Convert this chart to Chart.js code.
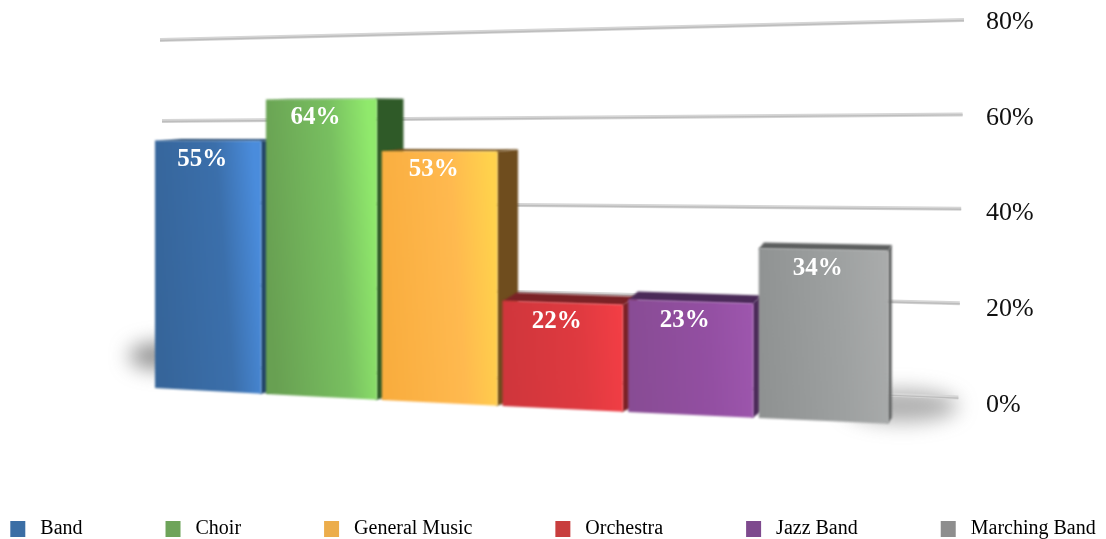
<!DOCTYPE html>
<html>
<head>
<meta charset="utf-8">
<script src="https://cdn.jsdelivr.net/npm/chart.js@4"></script>
<style>
  html, body { margin: 0; padding: 0; background: #fff; }
  #wrap { width: 1106px; height: 539px; }
</style>
</head>
<body>
<div id="wrap"><canvas id="chart"></canvas></div>
<script>
const categories = ['Music Participation'];
const seriesNames = ['Band', 'Choir', 'General Music', 'Orchestra', 'Jazz Band', 'Marching Band'];
const seriesValues = [55, 64, 53, 22, 23, 34];
const tickLabels = ['0%', '20%', '40%', '60%', '80%'];

const legendColors = ['#3b6ea5', '#6ea45a', '#ecad4b', '#c83e3e', '#7e4a8e', '#8e8e8e'];
const faceColors = [
  ['#36659a', '#3b6fab', '#4a8cdc'],
  ['#68a052', '#78bf60', '#90e96c'],
  ['#f9ad3e', '#ffb94f', '#ffd24c'],
  ['#cf363c', '#df3a40', '#f23e45'],
  ['#884c94', '#934fa2', '#9d56ad'],
  ['#8f9292', '#9ea1a1', '#a9abab']
];
const sideColors = ['#244568', '#2f5a28', '#6f4d1e', '#7a2226', '#4a2a58', '#5c5e5e'];
const SERIF = '"Liberation Serif", serif';

// the original is a tilted 3D chart, so bars go through this warp after the scales
function warpX(u) { return 155 + 108.5 * u + 2.45 * u * u; }
function warpY(u, v) { return 388 + 6 * u - v * (4.5 + 0.1 * u); }
function sideDepth(x) { return Math.max(3, 0.05 * (905 - x)); }

function poly(ctx, pts, fill) {
  ctx.beginPath();
  pts.forEach((p, i) => i ? ctx.lineTo(p[0], p[1]) : ctx.moveTo(p[0], p[1]));
  ctx.closePath();
  ctx.fillStyle = fill;
  ctx.fill();
}

const tiltPlugin = {
  id: 'tilt',
  beforeDatasetsDraw(chart) {
    const ctx = chart.ctx, y = chart.scales.y;
    ctx.save();
    // soft floor shadows
    ctx.filter = 'blur(10px)';
    ctx.fillStyle = 'rgba(95,95,95,0.7)';
    ctx.beginPath(); ctx.ellipse(warpX(0) + 4, warpY(0, 0) - 32, 30, 13, 0, 0, Math.PI * 2); ctx.fill();
    ctx.fillStyle = 'rgba(95,95,95,0.5)';
    ctx.beginPath(); ctx.ellipse(warpX(6) + 8, warpY(6, 0) - 18, 56, 16, 0, 0, Math.PI * 2); ctx.fill();
    // grid lines on the back wall
    y.ticks.forEach(t => {
      const v = t.value;
      const x0 = 160 + (80 - v) * 0.1, y0 = 40 + 4.05 * (80 - v);
      const x1 = 964 - (80 - v) * 0.07, y1 = 20 + 4.72 * (80 - v);
      ctx.filter = 'blur(0.7px)';
      ctx.lineWidth = 4; ctx.strokeStyle = '#d6d6d6';
      ctx.beginPath(); ctx.moveTo(x0, y0); ctx.lineTo(x1, y1); ctx.stroke();
      ctx.lineWidth = 1.4; ctx.strokeStyle = '#bdbdbd';
      ctx.beginPath(); ctx.moveTo(x0, y0 + 0.5); ctx.lineTo(x1, y1 + 0.5); ctx.stroke();
    });
    ctx.restore();
  },
  beforeDatasetDraw() { return false; },
  afterDatasetsDraw(chart) {
    const ctx = chart.ctx, area = chart.chartArea, y = chart.scales.y;
    const boxes = [];
    seriesNames.forEach((name, i) => {
      const el = chart.getDatasetMeta(i).data[0];
      const slot = area.width / seriesNames.length;
      const u0 = (el.x - el.width / 2 - area.left) / slot;
      const u1 = u0 + 0.96;
      const v = y.getValueForPixel(el.y);
      const xL = warpX(u0), xR = warpX(u1);
      const tL = warpY(u0, v), tR = warpY(u1, v) - (v - 40) * 0.02;
      const bL = warpY(u0, 0), bR = warpY(u1, 0);
      const d = sideDepth(xR), lift = Math.max(0, (62 - v) * 0.2);

      ctx.save();
      ctx.filter = 'blur(0.8px)';
      // top and right faces first, front face over them
      poly(ctx, [[xL, tL + 1], [xL + sideDepth(xL) * 0.7, tL - lift], [xR + d, tR - lift], [xR, tR + 1]], sideColors[i]);
      poly(ctx, [[xR - 1, tR], [xR + d, tR - lift], [xR + d, bR - 6], [xR - 1, bR]], sideColors[i]);
      const mid = (tL + bL) / 2;
      const g = ctx.createLinearGradient(xL, mid + 4, xR, mid - 4);
      g.addColorStop(0, faceColors[i][0]);
      g.addColorStop(0.65, faceColors[i][1]);
      g.addColorStop(1, faceColors[i][2]);
      poly(ctx, [[xL, tL], [xR, tR], [xR, bR], [xL, bL]], g);
      ctx.restore();
      boxes.push({ x: (xL + xR) / 2 - 6, y: tL + 18 + (64 - v) * 0.08, v });
    });
    ctx.save();
    ctx.fillStyle = '#fff';
    ctx.font = 'bold 25px ' + SERIF;
    ctx.textAlign = 'center';
    ctx.textBaseline = 'middle';
    boxes.forEach(b => ctx.fillText(b.v.toFixed(0) + '%', b.x, b.y));
    ctx.restore();
  }
};

new Chart(document.getElementById('chart'), {
  type: 'bar',
  data: {
    labels: categories,
    datasets: seriesNames.map((name, i) => ({
      label: name,
      data: [seriesValues[i]],
      xAxisID: 'x',
      yAxisID: 'y',
      backgroundColor: legendColors[i],
      barPercentage: 1,
      categoryPercentage: 1
    }))
  },
  options: {
    responsive: true,
    maintainAspectRatio: false,
    animation: false,
    layout: { padding: { left: 0, top: 22, right: 0, bottom: -10 } },
    scales: {
      x: {
        grid: { display: false },
        border: { display: false },
        ticks: { display: false },
        afterFit(s) { s.height = 106; }
      },
      // empty axis, only holds the left margin so the legend keeps the full width
      gutter: {
        type: 'linear',
        position: 'left',
        grid: { display: false },
        border: { display: false },
        ticks: { display: false },
        afterFit(s) { s.width = 155; s.paddingTop = 0; s.paddingBottom = 0; }
      },
      y: {
        position: 'right',
        min: 0,
        max: 80,
        grid: { display: false },
        border: { display: false },
        afterFit(s) { s.width = 146; s.paddingTop = 0; s.paddingBottom = 0; },
        afterBuildTicks(s) { s.ticks = tickLabels.map(t => ({ value: parseInt(t) })); },
        ticks: {
          padding: 18,
          color: '#111',
          font: { family: SERIF, size: 26 },
          callback: v => v + '%'
        }
      }
    },
    plugins: {
      tooltip: { enabled: false },
      legend: {
        position: 'bottom',
        labels: {
          boxWidth: 15,
          boxHeight: 16,
          padding: 8,
          color: '#111',
          font: { family: SERIF, size: 20 },
          generateLabels(chart) {
            // spaces carry the wide even gap, labels.padding would also grow the box height
            return seriesNames.map((name, i) => ({
              text: ' ' + name + (i < seriesNames.length - 1 ? ' '.repeat(15) : ''),
              fillStyle: legendColors[i],
              strokeStyle: legendColors[i],
              lineWidth: 0,
              datasetIndex: i,
              hidden: false
            }));
          }
        }
      }
    }
  },
  plugins: [tiltPlugin]
});
</script>
</body>
</html>
